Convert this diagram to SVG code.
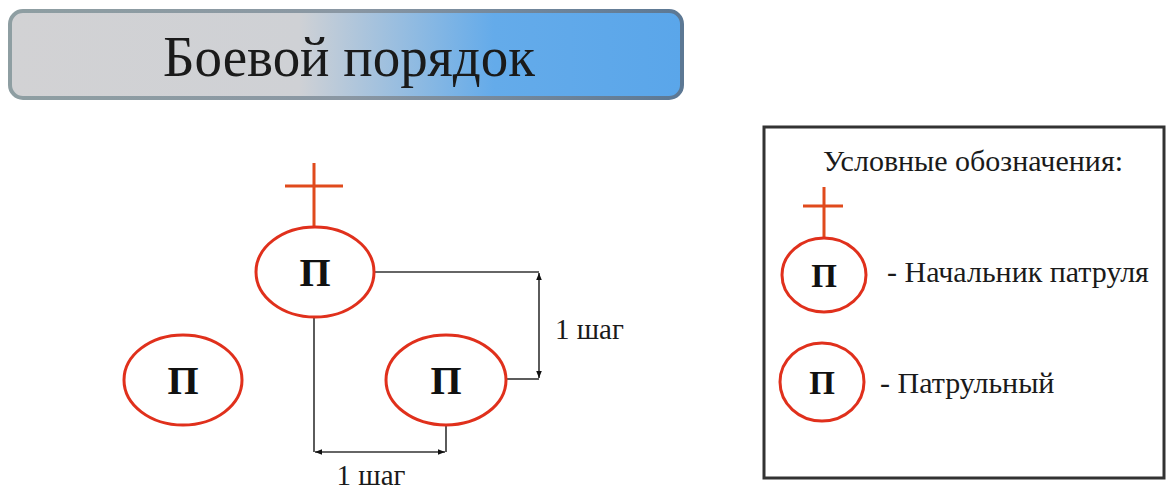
<svg xmlns="http://www.w3.org/2000/svg" width="1167" height="490" viewBox="0 0 1167 490">
<style>
  .t{font-family:"Liberation Serif","Times New Roman",serif;fill:#1a1a1a}
  .p{font-family:"Liberation Serif","Times New Roman",serif;font-weight:bold;fill:#111;text-anchor:middle}
  .ring{fill:#fff;stroke:#e0301c;stroke-width:3}
  .cross{stroke:#e04a1c;stroke-width:3;fill:none}
  .dim{stroke:#333;stroke-width:1.6;fill:none}
</style>
<defs>
  <linearGradient id="bg" x1="0" y1="0" x2="1" y2="0">
    <stop offset="0" stop-color="#d2d2d4"/>
    <stop offset="0.43" stop-color="#cfd1d5"/>
    <stop offset="0.72" stop-color="#64abea"/>
    <stop offset="1" stop-color="#5aa6ea"/>
  </linearGradient>
  <linearGradient id="bd" x1="0" y1="0" x2="1" y2="0">
    <stop offset="0" stop-color="#8e9ea2"/>
    <stop offset="0.5" stop-color="#8a97a3"/>
    <stop offset="1" stop-color="#5c7894"/>
  </linearGradient>
  <marker id="ah" viewBox="0 0 10 10" refX="10" refY="5" markerWidth="7" markerHeight="7" orient="auto-start-reverse" markerUnits="userSpaceOnUse">
    <path d="M0,1 L10,5 L0,9 z" fill="#111"/>
  </marker>
</defs>
<rect width="1167" height="490" fill="#fff"/>

<g id="title">
  <rect x="10" y="11" width="672" height="87" rx="13" fill="url(#bg)" stroke="url(#bd)" stroke-width="4"/>
  <text class="t" x="163" y="76" font-size="56" textLength="372" lengthAdjust="spacingAndGlyphs">Боевой порядок</text>
</g>

<g id="connectors">
  <line class="dim" x1="374" y1="272" x2="539" y2="272"/>
  <line class="dim" x1="507" y1="379" x2="539" y2="379"/>
  <line class="dim" x1="539" y1="273" x2="539" y2="378" marker-start="url(#ah)" marker-end="url(#ah)"/>
  <line class="dim" x1="314" y1="317" x2="314" y2="452"/>
  <line class="dim" x1="446" y1="425" x2="446" y2="452"/>
  <line class="dim" x1="315" y1="452" x2="445" y2="452" marker-start="url(#ah)" marker-end="url(#ah)"/>
  <text class="t" x="555" y="339" font-size="29">1 шаг</text>
  <text class="t" x="371" y="485" font-size="29" text-anchor="middle">1 шаг</text>
</g>

<g id="leader">
  <path class="cross" d="M314,163 V228 M285,186 H343"/>
  <ellipse class="ring" cx="315" cy="272" rx="59" ry="45"/>
  <text class="p" x="315" y="286" font-size="40">П</text>
</g>

<g id="patrol-left">
  <ellipse class="ring" cx="183" cy="380" rx="59" ry="45"/>
  <text class="p" x="183" y="394" font-size="40">П</text>
</g>

<g id="patrol-right">
  <ellipse class="ring" cx="446" cy="380" rx="60" ry="45"/>
  <text class="p" x="446" y="394" font-size="40">П</text>
</g>

<g id="legend">
  <rect x="764" y="127" width="400" height="351" fill="#fff" stroke="#333" stroke-width="3"/>
  <text class="t" x="973" y="171" font-size="30" text-anchor="middle">Условные обозначения:</text>
  <path class="cross" d="M824,187 V238 M803,206 H843"/>
  <ellipse class="ring" cx="824" cy="275" rx="42" ry="37" stroke-width="2.5"/>
  <text class="p" x="824" y="287" font-size="33">П</text>
  <text class="t" x="887" y="282" font-size="30">- Начальник патруля</text>
  <ellipse class="ring" cx="822" cy="382" rx="42" ry="39" stroke-width="2.5"/>
  <text class="p" x="822" y="394" font-size="33">П</text>
  <text class="t" x="880" y="393" font-size="30">- Патрульный</text>
</g>
</svg>
